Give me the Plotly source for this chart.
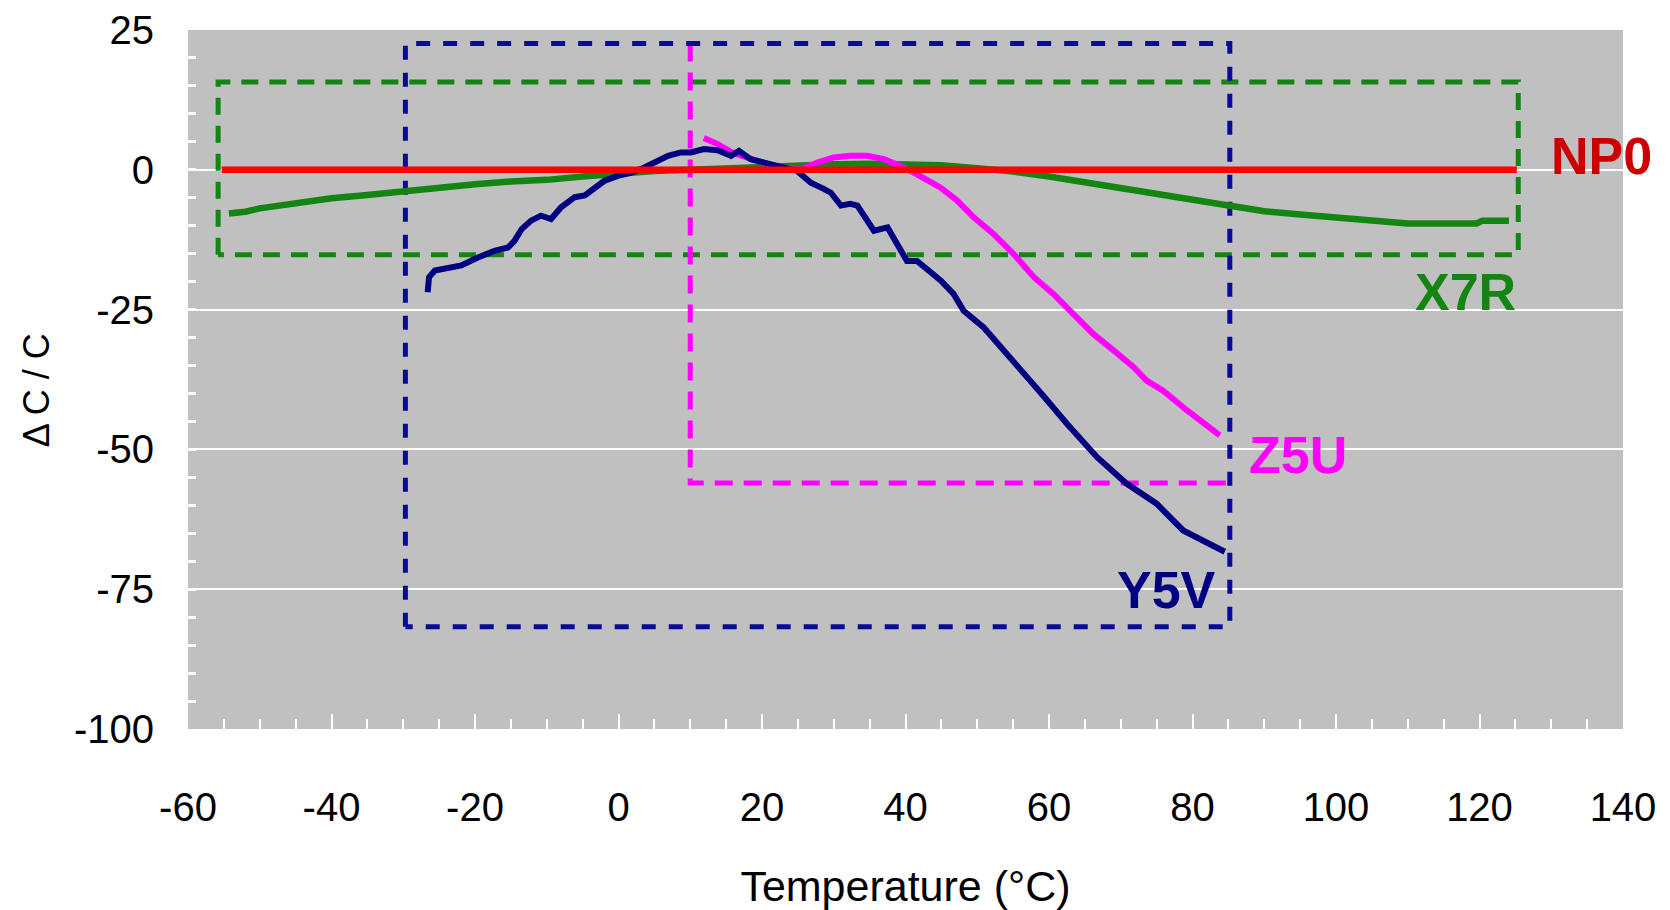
import plotly.graph_objects as go

# ---------------- data ----------------
temp_ticks = [-60, -40, -20, 0, 20, 40, 60, 80, 100, 120, 140]
dc_ticks = [25, 0, -25, -50, -75, -100]

# NP0: flat line
np0_x = [-55.3, 125.2]
np0_y = [0.0, 0.0]

# X7R curve
x7r_x = [-54.3, -52, -50, -45, -40, -35, -30, -25, -20, -15, -10, -5, 0, 5, 10, 15, 20, 25,
         30, 35, 40, 45, 50, 55, 60, 65, 70, 75, 80, 85, 90, 95, 100, 105, 110, 115, 119.6,
         120.4, 124.1]
x7r_y = [-7.8, -7.5, -6.9, -5.9, -5.1, -4.5, -3.8, -3.2, -2.6, -2.1, -1.8, -1.2, -0.6, -0.2,
         0.0, 0.3, 0.5, 0.8, 1.0, 1.1, 1.0, 0.8, 0.3, -0.3, -1.2, -2.2, -3.3, -4.3, -5.3, -6.3,
         -7.4, -8.0, -8.6, -9.2, -9.6, -9.6, -9.6, -9.1, -9.1]

# Y5V curve
y5v_x = [-26.6, -26.4, -25.6, -23.3, -21.9, -19.6, -17.3, -15.4, -14.5, -13.5, -12.2, -10.8,
         -9.4, -8.0, -6.1, -4.7, -3.4, -2.0, -0.1, 1.8, 3.6, 5.0, 6.9, 8.7, 10.1, 11.9, 13.8,
         15.7, 16.8, 18.4, 20.8, 23.1, 24.9, 26.8, 28.6, 29.6, 31.0, 32.3, 33.3, 35.6, 37.5,
         40.2, 41.6, 44.9, 46.7, 48.1, 50.9, 54.2, 56.9, 59.2, 62.5, 66.7, 70.8, 75.0, 78.7,
         81.0, 84.5]
y5v_y = [-21.9, -19.2, -18.0, -17.4, -17.1, -15.7, -14.5, -13.9, -12.7, -10.6, -9.1, -8.2,
         -8.8, -6.7, -4.9, -4.6, -3.2, -2.0, -1.1, -0.5, 0.4, 1.3, 2.5, 3.1, 3.1, 3.7, 3.5,
         2.5, 3.4, 1.9, 1.0, 0.4, -0.2, -2.3, -3.4, -4.1, -6.4, -6.1, -6.4, -10.9, -10.3,
         -16.3, -16.3, -19.8, -22.2, -25.2, -28.2, -32.9, -37.1, -40.4, -45.4, -51.4, -56.1,
         -59.7, -64.5, -65.9, -68.3]

# Z5U curve
z5u_x = [11.9, 13.8, 16.0, 18.4, 20.8, 23.0, 25.4, 27.7, 30.0, 32.3, 34.6, 37.0, 39.3, 41.6,
         44.9, 47.2, 49.5, 52.3, 55.1, 57.9, 60.6, 63.4, 66.2, 69.0, 71.8, 73.6, 75.9, 79.2,
         83.8]
z5u_y = [5.7, 4.6, 3.0, 1.9, 1.0, 0.4, 0.1, 1.3, 2.2, 2.5, 2.5, 1.9, 0.7, -0.8, -3.2, -5.5,
         -8.5, -11.5, -15.1, -19.2, -22.2, -25.8, -29.4, -32.3, -35.3, -37.7, -39.5, -43.0,
         -47.5]

# Specification boxes: [temperature min, max], [dC/C min, max]
x7r_box_t = [-55.8, 125.4]
x7r_box_c = [-15.2, 15.7]
y5v_box_t = [-29.7, 85.2]
y5v_box_c = [-81.7, 22.6]
z5u_box_t = [10.0, 85.2]
z5u_box_c = [-56.0, 22.6]

# ---------------- styling ----------------
RED = "#FF0000"
GREEN = "#138513"
NAVY = "#000080"
BOXNAVY = "#0A0A9A"
MAGENTA = "#FF00FF"
NARROW = "Liberation Sans Narrow, Arial Narrow, Liberation Sans, Arial, sans-serif"
BOLD = "Liberation Sans, Arial, sans-serif"


def box_trace(t, c, color, dash, name, open_box=False):
    if open_box:
        # left and bottom edges only (top/right lie under the Y5V box)
        xs = [t[0], t[0], t[1]]
        ys = [c[1], c[0], c[0]]
    else:
        xs = [t[0], t[0], t[1], t[1], t[0]]
        ys = [c[0], c[1], c[1], c[0], c[0]]
    return go.Scatter(
        x=xs, y=ys, mode="lines", name=name, showlegend=False, hoverinfo="skip",
        line=dict(color=color, width=5, dash=dash),
    )


fig = go.Figure()
fig.add_trace(box_trace(x7r_box_t, x7r_box_c, GREEN, "17px,11px", "X7R limits"))
fig.add_trace(box_trace(z5u_box_t, z5u_box_c, MAGENTA, "18px,11px", "Z5U limits", True))
fig.add_trace(box_trace(y5v_box_t, y5v_box_c, BOXNAVY, "14px,13px", "Y5V limits"))

fig.add_trace(go.Scatter(x=x7r_x, y=x7r_y, mode="lines", name="X7R",
                         line=dict(color=GREEN, width=6.5)))
fig.add_trace(go.Scatter(x=z5u_x, y=z5u_y, mode="lines", name="Z5U",
                         line=dict(color=MAGENTA, width=6)))
fig.add_trace(go.Scatter(x=y5v_x, y=y5v_y, mode="lines", name="Y5V",
                         line=dict(color=NAVY, width=6)))
fig.add_trace(go.Scatter(x=np0_x, y=np0_y, mode="lines", name="NP0",
                         line=dict(color=RED, width=6.5)))

labels = [
    ("NP0", 137.0, 2.4, "#CC0000"),
    ("X7R", 118.1, -21.9, GREEN),
    ("Z5U", 94.7, -51.0, MAGENTA),
    ("Y5V", 76.4, -75.1, NAVY),
]
for text, lx, ly, col in labels:
    fig.add_annotation(x=lx, y=ly, xref="x", yref="y", text="<b>%s</b>" % text,
                       showarrow=False, xanchor="center", yanchor="middle",
                       font=dict(family=BOLD, size=52, color=col))

# y-axis title
fig.add_annotation(x=-0.105, y=0.485, xref="paper", yref="paper", text="\u0394 C / C",
                   showarrow=False, textangle=-90, xanchor="center", yanchor="middle",
                   font=dict(family=NARROW, size=36, color="black"))

# the page body has an 8 px margin, so the figure is 8 px smaller and offset
fig.update_layout(
    width=1662, height=902,
    margin=dict(l=180, r=47, t=22, b=181),
    paper_bgcolor="white", plot_bgcolor="#C0C0C0",
    showlegend=False,
)
fig.update_xaxes(
    range=[-60, 140], tickvals=temp_ticks, ticktext=[str(v) for v in temp_ticks],
    showgrid=False, zeroline=False, showline=False,
    ticks="inside", ticklen=15, tickwidth=2, tickcolor="white",
    minor=dict(ticks="inside", ticklen=10, tickwidth=2, tickcolor="white", dtick=5,
               tick0=0, showgrid=False),
    tickfont=dict(family=NARROW, size=40, color="black"),
    ticklabelstandoff=51,
    title=dict(text="Temperature (°C)", font=dict(family=NARROW, size=43, color="black"),
               standoff=52),
    automargin=False,
)
fig.update_yaxes(
    range=[-100, 25], tickvals=dc_ticks, ticktext=[str(v) for v in dc_ticks],
    showgrid=True, gridcolor="white", gridwidth=2, zeroline=False, showline=False,
    ticks="inside", ticklen=8, tickwidth=3, tickcolor="white",
    minor=dict(ticks="inside", ticklen=8, tickwidth=3, tickcolor="white", dtick=5,
               tick0=0, showgrid=False),
    tickfont=dict(family=NARROW, size=40, color="black"),
    ticklabelstandoff=33,
    automargin=False,
)

fig.write_html("out.html")
